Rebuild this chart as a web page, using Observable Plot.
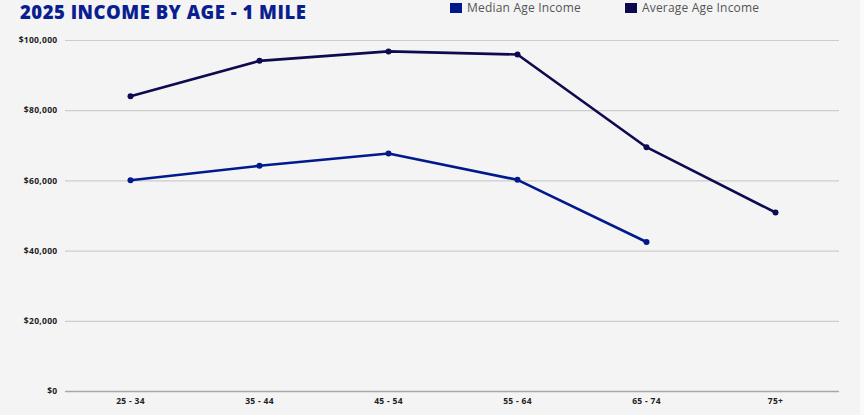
<!DOCTYPE html>
<html>
<head>
<meta charset="utf-8">
<script src="https://cdn.jsdelivr.net/npm/d3@7"></script>
<script src="https://cdn.jsdelivr.net/npm/@observablehq/plot@0.6"></script>
<style>
  html, body { margin: 0; padding: 0; background: #fafafa; }
  #wrap { position: relative; width: 860px; height: 415px; background: #f4f4f4; overflow: hidden; }
  #title { position: absolute; left: 20px; top: 0px; font-family: "Open Sans", sans-serif; font-weight: 800;
           font-size: 18.5px; color: #0a1f8f; letter-spacing: 0.5px; line-height: 24px; }
  #legend { position: absolute; left: 450px; top: 1px; font-family: "Open Sans", sans-serif; font-size: 12px;
            letter-spacing: 0.2px; color: #555; display: flex; }
  .item { display: flex; align-items: center; line-height: 14px; }
  .sw { width: 12px; height: 10px; margin-right: 5px; }
  #chart { position: absolute; left: 0; top: 0; }
  #chart text { letter-spacing: 0.3px; }
</style>
</head>
<body>
<div id="wrap">
  <div id="chart"></div>
  <div id="title">2025 INCOME BY AGE - 1 MILE</div>
  <div id="legend"></div>
</div>
<script>
const ageGroups = ["25 - 34", "35 - 44", "45 - 54", "55 - 64", "65 - 74", "75+"];
const medianIncome = [60200, 64300, 67800, 60300, 42600, null];
const averageIncome = [84100, 94200, 96900, 96000, 69600, 51000];
const yTicks = [0, 20000, 40000, 60000, 80000, 100000];
const seriesNames = ["Median Age Income", "Average Age Income"];
const seriesColors = ["#001a8c", "#0e0a4f"];

const rows = [];
ageGroups.forEach((g, i) => {
  if (medianIncome[i] != null) rows.push({ age: g, value: medianIncome[i], series: seriesNames[0] });
  if (averageIncome[i] != null) rows.push({ age: g, value: averageIncome[i], series: seriesNames[1] });
});

const fmt = d => "$" + d3.format(",")(d);

const chart = Plot.plot({
  width: 860,
  height: 415,
  marginLeft: 65,
  marginRight: 21,
  marginTop: 40,
  marginBottom: 24,
  style: { background: "transparent", fontFamily: "'Open Sans', sans-serif" },
  x: { type: "point", domain: ageGroups, padding: 0.5, label: null },
  y: { domain: [0, 100000], label: null },
  color: { domain: seriesNames, range: seriesColors },
  marks: [
    Plot.ruleY(yTicks.filter(d => d > 0), { stroke: "#cccccc", strokeWidth: 1.2 }),
    Plot.ruleY([0], { stroke: "#a8a8a8", strokeWidth: 1.6 }),
    Plot.axisY({ ticks: yTicks, tickFormat: fmt, tickSize: 0, tickPadding: 8, fontSize: 8.5, fontWeight: 700, fill: "#222" }),
    Plot.axisX({ tickSize: 0, tickPadding: 6, fontSize: 8.5, fontWeight: 700, fill: "#222" }),
    Plot.line(rows, { x: "age", y: "value", z: "series", stroke: "series", strokeWidth: 2.6 }),
    Plot.dot(rows, { x: "age", y: "value", fill: "series", r: 3 })
  ]
});
document.getElementById("chart").appendChild(chart);

const legend = document.getElementById("legend");
seriesNames.forEach((name, i) => {
  const item = document.createElement("div");
  item.className = "item";
  item.style.marginRight = i === 0 ? "44px" : "0";
  const sw = document.createElement("div");
  sw.className = "sw";
  sw.style.background = seriesColors[i];
  const tx = document.createElement("span");
  tx.textContent = name;
  item.appendChild(sw);
  item.appendChild(tx);
  legend.appendChild(item);
});
</script>
</body>
</html>
